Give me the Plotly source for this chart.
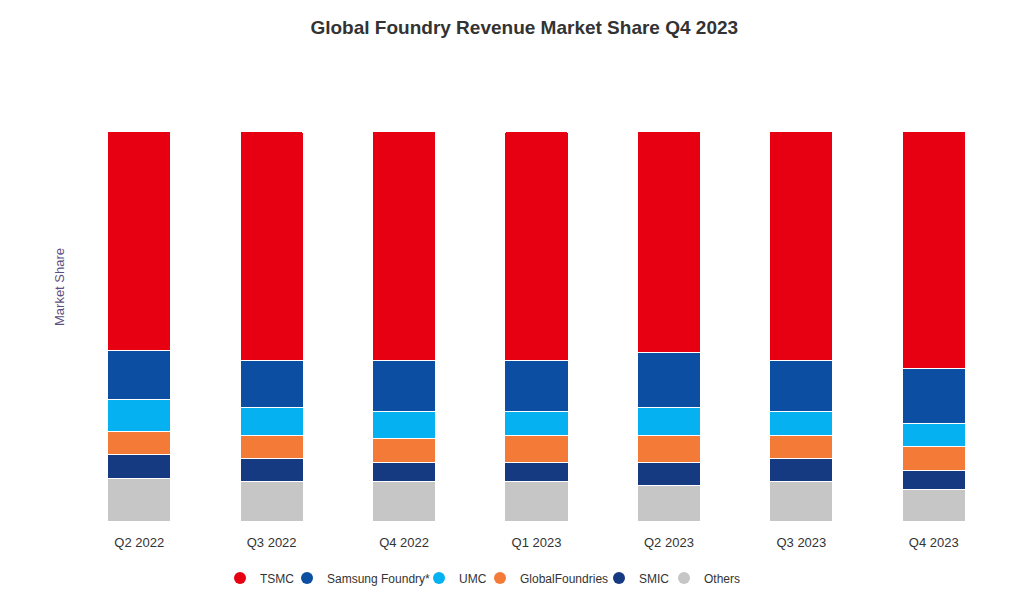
import plotly.graph_objects as go

quarters = ["Q2 2022", "Q3 2022", "Q4 2022", "Q1 2023", "Q2 2023", "Q3 2023", "Q4 2023"]
companies = ["TSMC", "Samsung Foundry*", "UMC", "GlobalFoundries", "SMIC", "Others"]
tsmc = [56.1, 58.8, 58.8, 58.8, 56.8, 58.8, 60.9]
samsung = [12.7, 12.0, 13.1, 13.1, 14.1, 13.1, 14.1]
umc = [8.2, 7.2, 6.9, 6.1, 7.2, 6.1, 5.9]
globalfoundries = [5.9, 5.9, 6.1, 6.9, 6.9, 5.9, 6.1]
smic = [6.1, 5.9, 4.9, 4.9, 5.9, 5.9, 4.9]
others = [10.9, 10.2, 10.2, 10.2, 9.1, 10.2, 8.1]
colors = ["#e60012", "#0b4ea2", "#05b1f0", "#f47b37", "#163a82", "#c6c6c6"]
legend_marker_px = [240, 307, 439, 500, 619, 684]

# stacking order bottom -> top
stack = [("Others", others, colors[5]), ("SMIC", smic, colors[4]),
         ("GlobalFoundries", globalfoundries, colors[3]), ("UMC", umc, colors[2]),
         ("Samsung Foundry*", samsung, colors[1]), ("TSMC", tsmc, colors[0])]

fig = go.Figure()
for name, vals, col in stack:
    fig.add_trace(go.Bar(x=quarters, y=vals, name=name,
                         marker=dict(color=col, line=dict(color="white", width=1)),
                         showlegend=False))

legend_font = dict(size=12, color="#333333", family="Liberation Sans, Arial, sans-serif")
layout_legends = {}
for i, (name, col) in enumerate(zip(companies, colors)):
    key = "legend" if i == 0 else f"legend{i+1}"
    fig.add_trace(go.Scatter(x=[None], y=[None], mode="markers", name=name,
                             marker=dict(symbol="circle", size=12, color=col),
                             showlegend=True, legend=key))
    layout_legends[key] = dict(orientation="h", xref="container", yref="container",
                               x=(legend_marker_px[i] - 20) / 1022, xanchor="left",
                               y=1 - 578 / 606, yanchor="middle", font=legend_font,
                               bgcolor="rgba(0,0,0,0)")

fig.update_layout(
    width=1022, height=606,
    barmode="stack", bargap=0.524, barcornerradius=2,
    plot_bgcolor="white", paper_bgcolor="white",
    margin=dict(l=73, r=22, t=131, b=85, autoexpand=False),
    font=dict(family="Liberation Sans, Arial, sans-serif", color="#333333", size=13),
    title=dict(text="<b>Global Foundry Revenue Market Share Q4 2023</b>", x=0.513, xanchor="center",
               y=1 - 27 / 606, yanchor="middle", font=dict(size=19, color="#333333")),
    xaxis=dict(showgrid=False, showline=False, ticks="", ticklabelstandoff=12,
               tickfont=dict(size=13, color="#333333")),
    yaxis=dict(range=[0, 100], showgrid=False, showticklabels=False, zeroline=False),
    annotations=[dict(text="Market Share", textangle=-90, xref="paper", yref="paper",
                      x=(59 - 73) / 927, y=(521 - 287) / 390, xanchor="center", yanchor="middle",
                      showarrow=False, font=dict(size=13, color="#5c4f82"))],
    **layout_legends,
)
fig.write_html("out.html", config={"displayModeBar": False},
               post_script="document.body.style.margin='0';")
